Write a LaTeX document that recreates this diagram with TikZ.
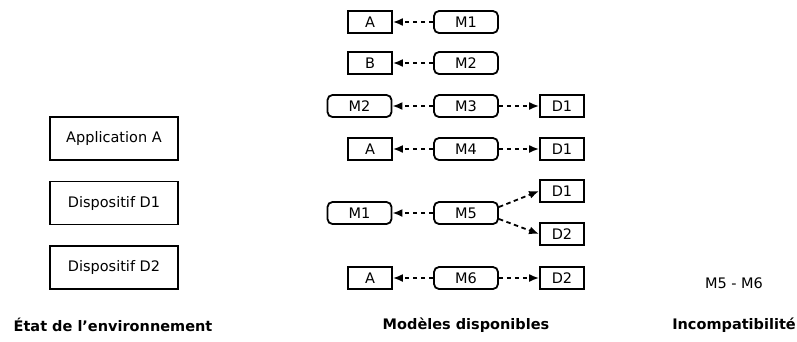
\documentclass[tikz,border=0pt]{standalone}
\usepackage{fontspec}
\setmainfont{DejaVu Sans}
\usetikzlibrary{arrows.meta}
\begin{document}
\begin{tikzpicture}[x=1pt,y=-1pt,
  every node/.style={font=\fontsize{14.5}{17}\selectfont, inner sep=0pt},
  sq/.style={draw, line width=1.8pt, minimum width=44pt, minimum height=22pt},
  rd/.style={draw, line width=1.8pt, rounded corners=5pt, minimum width=64pt, minimum height=22pt},
  env/.style={draw, line width=1.8pt, minimum width=128pt, minimum height=43pt},
  title/.style={font=\fontsize{14.5}{17}\selectfont\bfseries},
  dep/.style={dash pattern=on 4.5pt off 3.5pt, line width=1.8pt, -{Latex[length=10pt,width=8pt]}}
]
\useasboundingbox (0,0) rectangle (797,341);
% environment
\node[env] (appA) at (114,138.5) {Application A};
\node[env] (devD1) at (114,203) {Dispositif D1};
\node[env] (devD2) at (114,267.5) {Dispositif D2};
\node[title] (t1) at (113,325) {État de l’environnement};
% models
\node[sq] (a1) at (370,22) {A};
\node[rd] (m1) at (466,22) {M1};
\node[sq] (b2) at (370,63) {B};
\node[rd] (m2) at (466,63) {M2};
\node[rd] (m2b) at (359.5,106) {M2};
\node[rd] (m3) at (466,106) {M3};
\node[sq] (d13) at (562,106) {D1};
\node[sq] (a4) at (370,149) {A};
\node[rd] (m4) at (466,149) {M4};
\node[sq] (d14) at (562,149) {D1};
\node[rd] (m1b) at (359.5,213) {M1};
\node[rd] (m5) at (466,213) {M5};
\node[sq] (d15) at (562,191) {D1};
\node[sq] (d25) at (562,234) {D2};
\node[sq] (a6) at (370,278) {A};
\node[rd] (m6) at (466,278) {M6};
\node[sq] (d26) at (562,278) {D2};
\node[title] (t2) at (466,325) {Modèles disponibles};
% incompat
\node (inc) at (734,283) {M5 - M6};
\node[title] (t3) at (734,325) {Incompatibilité};
% arrows
\draw[dep] (m1) -- (a1);
\draw[dep] (m2) -- (b2);
\draw[dep] (m3) -- (m2b);
\draw[dep] (m3) -- (d13);
\draw[dep] (m4) -- (a4);
\draw[dep] (m4) -- (d14);
\draw[dep] (m5) -- (m1b);
\draw[dep] ([yshift=6pt]m5.east) -- (d15.west);
\draw[dep] ([yshift=-6pt]m5.east) -- (d25.west);
\draw[dep] (m6) -- (a6);
\draw[dep] (m6) -- (d26);
\end{tikzpicture}
\end{document}
